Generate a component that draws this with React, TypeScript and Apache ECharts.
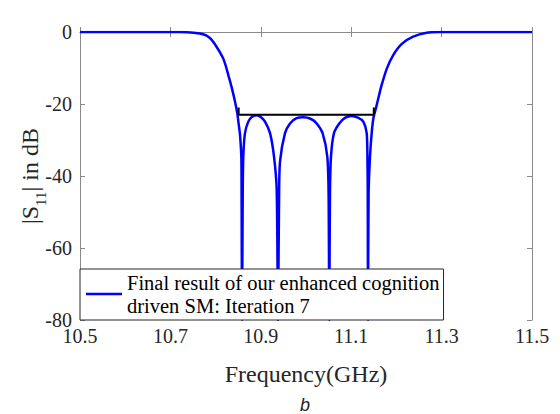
import React, { useEffect, useRef } from "react";
import * as echarts from "echarts";

const freqGHz = [
  10.5, 10.6, 10.68, 10.721, 10.745, 10.765, 10.778, 10.788, 10.795, 10.802,
  10.81, 10.817, 10.823, 10.828, 10.836, 10.843, 10.848, 10.851, 10.854, 10.857,
  10.8575, 10.8585, 10.86, 10.8613, 10.865, 10.8723, 10.88, 10.891, 10.9, 10.9093,
  10.9204, 10.9292, 10.9352, 10.938, 10.9405, 10.9425, 10.9535, 10.9646, 10.978, 10.994,
  11.01, 11.0236, 11.0367, 11.0471, 11.05, 11.0515, 11.053, 11.0553, 11.0619, 11.0737,
  11.087, 11.1011, 11.115, 11.1268, 11.1343, 11.136, 11.1366, 11.1372, 11.1385, 11.1416,
  11.1453, 11.149, 11.155, 11.16, 11.167, 11.179, 11.193, 11.212, 11.237, 11.267,
  11.296, 11.4, 11.5,
];
const s11dB = [
  0, 0, -0.01, -0.03, -0.12, -0.4, -0.9, -1.75, -2.8, -4.1,
  -5.7, -7.4, -9.6, -11.9, -15.6, -19.4, -22.6, -25.5, -28.6, -35,
  -45, -80, -45, -34.6, -28.1, -24.9, -23.6, -23.1, -23.6, -24.9,
  -28.1, -34.6, -43.9, -80, -45, -36, -28.1, -25.4, -24.0, -23.7,
  -24.1, -25.4, -28.1, -34.6, -45, -80, -45, -34.6, -28.1, -25.4,
  -23.8, -23.3, -23.8, -24.9, -28.1, -36, -45, -80, -45, -34.6,
  -28.1, -24.0, -21.0, -18.4, -14.9, -10.1, -6.4, -3.3, -1.3, -0.2,
  -0.03, 0, 0,
];
const specFreq = [10.851, 10.851, 11.15, 11.15];
const specDB = [-21, -23, -23, -21];
const xTicks = [10.5, 10.7, 10.9, 11.1, 11.3, 11.5];
const seriesName = "Final result of our enhanced cognition\ndriven SM: Iteration 7";

const serif = "Liberation Serif, Times New Roman, serif";
const axisColor = "#8a8a8a";
const labelColor = "#262626";

export default function App() {
  const ref = useRef<HTMLDivElement>(null);
  useEffect(() => {
    if (!ref.current) return;
    const chart = echarts.init(ref.current, undefined, { renderer: "svg" });
    const tickStyle = { show: true, inside: true, length: 5, lineStyle: { color: axisColor } };
    chart.setOption({
      animation: false,
      backgroundColor: "#fff",
      grid: { left: 80, right: 28, top: 32, bottom: 94, outerBoundsMode: "none", containLabel: false },
      legend: {
        left: 80,
        top: 269,
        orient: "vertical",
        backgroundColor: "#fff",
        borderColor: "#262626",
        borderWidth: 1,
        borderRadius: 0,
        padding: [2, 4, 3, 6],
        itemWidth: 36,
        itemHeight: 2.5,
        icon: "rect",
        textStyle: { fontFamily: serif, fontSize: 20.5, lineHeight: 23, color: "#000" },
        data: [{ name: seriesName, icon: "rect", itemStyle: { color: "#0000ff" } }],
      },
      xAxis: [
        {
          type: "value",
          min: 10.5,
          max: 11.5,
          name: "Frequency(GHz)",
          nameLocation: "middle",
          nameGap: 42,
          nameTextStyle: { fontFamily: serif, fontSize: 24, color: labelColor },
          axisLine: { lineStyle: { color: axisColor } },
          axisTick: { ...tickStyle, customValues: xTicks },
          axisLabel: {
            customValues: xTicks,
            fontFamily: serif,
            fontSize: 20,
            color: labelColor,
            margin: 6,
            formatter: (v: number) => v.toFixed(1),
          },
          splitLine: { show: false },
        },
        {
          type: "value",
          position: "top",
          min: 10.5,
          max: 11.5,
          axisLine: { show: true, lineStyle: { color: axisColor } },
          axisTick: { ...tickStyle, customValues: xTicks },
          axisLabel: { show: false },
          splitLine: { show: false },
        },
      ],
      yAxis: [
        {
          type: "value",
          min: -80,
          max: 0,
          interval: 20,
          name: "|S{sub|11}| in dB",
          nameLocation: "middle",
          nameGap: 32,
          nameMoveOverlap: false,
          nameTextStyle: {
            fontFamily: serif,
            fontSize: 24,
            color: labelColor,
            rich: { sub: { fontFamily: serif, fontSize: 15, color: labelColor, padding: [22, 0, 0, 0] } },
          },
          axisLine: { show: true, lineStyle: { color: axisColor } },
          axisTick: tickStyle,
          axisLabel: { fontFamily: serif, fontSize: 20, color: labelColor, margin: 8 },
          splitLine: { show: false },
        },
        {
          type: "value",
          position: "right",
          min: -80,
          max: 0,
          interval: 20,
          axisLine: { show: true, lineStyle: { color: axisColor } },
          axisTick: tickStyle,
          axisLabel: { show: false },
          splitLine: { show: false },
        },
      ],
      series: [
        {
          name: seriesName,
          type: "line",
          data: freqGHz.map((f, i) => [f, s11dB[i]]),
          symbol: "none",
          smooth: 0.25,
          lineStyle: { color: "#0000ff", width: 2.5 },
          itemStyle: { color: "#0000ff" },
          clip: true,
          z: 3,
        },
        {
          name: "spec",
          type: "line",
          data: specFreq.map((f, i) => [f, specDB[i]]),
          symbol: "none",
          lineStyle: { color: "#000", width: 2 },
          z: 4,
        },
      ],
      graphic: [
        {
          type: "text",
          left: 300,
          top: 396,
          style: { text: "b", font: "italic 18px Liberation Sans, Arial, sans-serif", fill: "#222" },
        },
      ],
    });
    return () => chart.dispose();
  }, []);
  return <div ref={ref} style={{ width: 560, height: 414, position: "absolute", left: 0, top: 0 }} />;
}
